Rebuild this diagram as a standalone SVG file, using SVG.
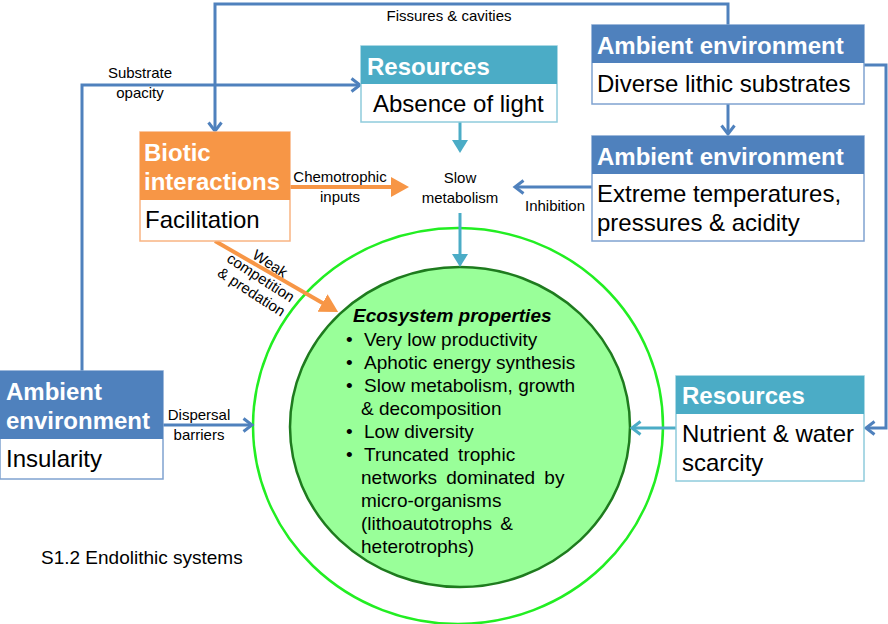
<svg xmlns="http://www.w3.org/2000/svg" width="888" height="624" viewBox="0 0 888 624">
<style>
.hd{font-family:"Liberation Sans",Arial,sans-serif;font-weight:bold;font-size:24px;fill:#fff}
.bd{font-family:"Liberation Sans",Arial,sans-serif;font-size:24px;fill:#000}
.lb{font-family:"Liberation Sans",Arial,sans-serif;font-size:15px;fill:#000}
.eco{font-family:"Liberation Sans",Arial,sans-serif;font-size:19px;fill:#000}
.blue{stroke:#4f81bd;stroke-width:3;fill:none}
.teal{stroke:#4bacc6;stroke-width:3;fill:none}
.orange{stroke:#f79646;stroke-width:4;fill:none}
</style>
<defs>
<marker id="chevB" markerUnits="userSpaceOnUse" viewBox="0 0 12 16" refX="10" refY="8" markerWidth="12" markerHeight="16" orient="auto" overflow="visible"><path d="M1.5,1.5 L10,8 L1.5,14.5" fill="none" stroke="#4f81bd" stroke-width="3"/></marker>
<marker id="chevT" markerUnits="userSpaceOnUse" viewBox="0 0 12 16" refX="10" refY="8" markerWidth="12" markerHeight="16" orient="auto" overflow="visible"><path d="M1.5,1.5 L10,8 L1.5,14.5" fill="none" stroke="#4bacc6" stroke-width="3"/></marker>
<marker id="triT" markerUnits="userSpaceOnUse" viewBox="0 0 13 16" refX="3" refY="8" markerWidth="13" markerHeight="16" orient="auto"><path d="M0,0 L13,8 L0,16 Z" fill="#4bacc6"/></marker>
<marker id="triO" markerUnits="userSpaceOnUse" viewBox="0 0 18 20" refX="4" refY="10" markerWidth="18" markerHeight="20" orient="auto"><path d="M0,0 L18,10 L0,20 Z" fill="#f79646"/></marker>
</defs>
<rect width="888" height="624" fill="#fff"/>

<g id="ecosystem">
<ellipse cx="458" cy="426" rx="205" ry="198" fill="#fff" stroke="#22ee22" stroke-width="2.5"/>
<ellipse cx="460" cy="427" rx="170" ry="160" fill="#99ff99" stroke="#1e7b1e" stroke-width="2.5"/>
<text x="353" y="322" class="eco" font-weight="bold" font-style="italic">Ecosystem properties</text>
<g class="eco">
<text x="346" y="346">•</text><text x="364" y="346">Very low productivity</text>
<text x="346" y="369">•</text><text x="364" y="369">Aphotic energy synthesis</text>
<text x="346" y="392">•</text><text x="364" y="392">Slow metabolism, growth</text>
<text x="361" y="415">&amp; decomposition</text>
<text x="346" y="438">•</text><text x="364" y="438">Low diversity</text>
<text x="346" y="461">•</text><text x="364" y="461" word-spacing="4">Truncated trophic</text>
<text x="361" y="484" word-spacing="4">networks dominated by</text>
<text x="361" y="507">micro-organisms</text>
<text x="361" y="530" word-spacing="3">(lithoautotrophs &amp;</text>
<text x="361" y="553">heterotrophs)</text>
</g>
</g>

<g id="connectors">
<path class="blue" d="M728,25 V4 H215 V131" marker-end="url(#chevB)"/>
<path class="blue" d="M82,371 V85 H360" marker-end="url(#chevB)"/>
<path class="blue" d="M864,65 H886 V428 H866" marker-end="url(#chevB)"/>
<path class="blue" d="M728,104 V134" marker-end="url(#chevB)"/>
<path class="blue" d="M592,187 H515" marker-end="url(#chevB)"/>
<path class="blue" d="M163,425 H252" marker-end="url(#chevB)"/>
<path class="teal" d="M676,428 H632" marker-end="url(#chevT)"/>
<path class="teal" d="M460,122 V143" marker-end="url(#triT)"/>
<path class="teal" d="M460,213 V257" marker-end="url(#triT)"/>
<path class="orange" d="M290,187 H395" marker-end="url(#triO)"/>
<path class="orange" d="M215,241 L326,305" marker-end="url(#triO)"/>
<g class="lb" text-anchor="middle">
<text x="449" y="21">Fissures &amp; cavities</text>
<text x="140" y="78">Substrate</text>
<text x="140" y="98">opacity</text>
<text x="340" y="182">Chemotrophic</text>
<text x="340" y="202">inputs</text>
<text x="460" y="183">Slow</text>
<text x="460" y="203">metabolism</text>
<text x="555" y="211">Inhibition</text>
<text x="199" y="420">Dispersal</text>
<text x="199" y="440">barriers</text>
<g transform="translate(258,282) rotate(33)">
<text x="0" y="-17">Weak</text>
<text x="0" y="0">competition</text>
<text x="0" y="17">&amp; predation</text>
</g>
</g>
<text x="41" y="564" font-family="Liberation Sans,Arial,sans-serif" font-size="19">S1.2 Endolithic systems</text>
</g>

<g id="res-light">
<rect x="361" y="46" width="196" height="76" fill="#fff" stroke="#8fcbdc" stroke-width="1.5"/>
<rect x="361" y="46" width="196" height="38" fill="#4bacc6"/>
<text x="367" y="75" class="hd">Resources</text>
<text x="373" y="112" class="bd">Absence of light</text>
</g>

<g id="amb-lithic">
<rect x="592" y="25" width="272" height="79" fill="#fff" stroke="#7fa2d0" stroke-width="1.5"/>
<rect x="592" y="25" width="272" height="38" fill="#4f81bd"/>
<text x="597" y="54" class="hd">Ambient environment</text>
<text x="597" y="92" class="bd">Diverse lithic substrates</text>
</g>

<g id="amb-extreme">
<rect x="592" y="136" width="272" height="105" fill="#fff" stroke="#7fa2d0" stroke-width="1.5"/>
<rect x="592" y="136" width="272" height="38" fill="#4f81bd"/>
<text x="597" y="165" class="hd">Ambient environment</text>
<text x="597" y="202" class="bd">Extreme temperatures,</text>
<text x="597" y="231" class="bd">pressures &amp; acidity</text>
</g>

<g id="biotic">
<rect x="140" y="132" width="150" height="109" fill="#fff" stroke="#f9b482" stroke-width="1.5"/>
<rect x="140" y="132" width="150" height="68" fill="#f79646"/>
<text x="144" y="161" class="hd">Biotic</text>
<text x="144" y="190" class="hd">interactions</text>
<text x="145" y="228" class="bd">Facilitation</text>
</g>

<g id="amb-insularity">
<rect x="0" y="371" width="163" height="108" fill="#fff" stroke="#7fa2d0" stroke-width="1.5"/>
<rect x="0" y="371" width="163" height="68" fill="#4f81bd"/>
<text x="6" y="400" class="hd">Ambient</text>
<text x="6" y="429" class="hd">environment</text>
<text x="6" y="467" class="bd">Insularity</text>
</g>

<g id="res-nutrient">
<rect x="676" y="376" width="188" height="105" fill="#fff" stroke="#8fcbdc" stroke-width="1.5"/>
<rect x="676" y="376" width="188" height="38" fill="#4bacc6"/>
<text x="682" y="404" class="hd">Resources</text>
<text x="682" y="442" class="bd">Nutrient &amp; water</text>
<text x="682" y="471" class="bd">scarcity</text>
</g>
</svg>
